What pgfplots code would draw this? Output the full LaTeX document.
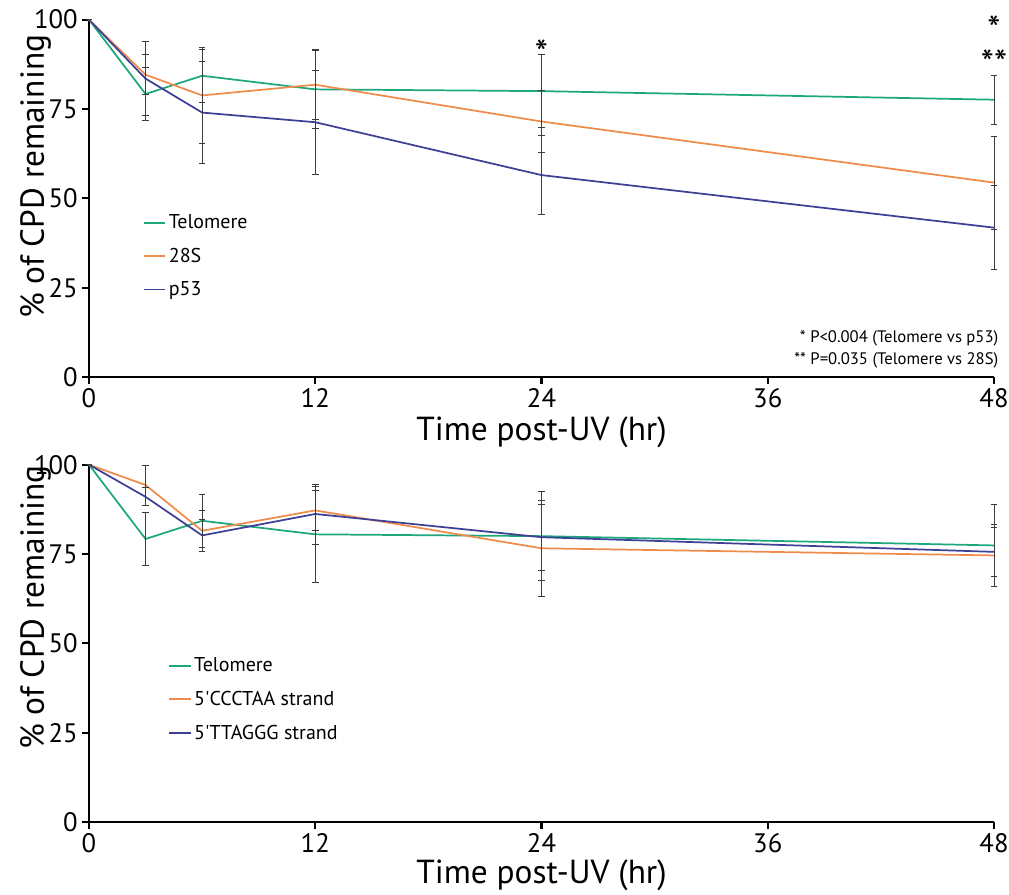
\documentclass[border=0pt]{standalone}
\usepackage{fontspec}
\setmainfont{PT Sans}
\usepackage{pgfplots}
\pgfplotsset{compat=1.18}

\definecolor{telo}{RGB}{28,168,124}
\definecolor{rib}{RGB}{240,140,75}
\definecolor{pff}{RGB}{62,64,150}
\definecolor{ebar}{RGB}{60,60,60}

\pgfplotsset{
  panel/.style={
    scale only axis, width=678.75pt, height=268pt,
    xmin=0, xmax=48, ymin=0, ymax=100,
    axis lines=left, axis line style={line width=2pt, -},
    xtick={0,12,24,36,48}, ytick={0,25,50,75,100},
    tick style={line width=1.6pt, black}, tick align=outside, major tick length=5pt,
    tick label style={font=\fontsize{20}{22}\selectfont},
    /pgf/number format/assume math mode=true,
    label style={font=\fontsize{25}{28}\selectfont},
    xlabel={Time post-UV (hr)},
    ylabel={\% of CPD remaining},
    every axis plot/.append style={line width=1.3pt, no markers},
    error bars/y dir=both, error bars/y explicit,
    error bars/error bar style={ebar, line width=0.7pt},
    error bars/error mark options={ebar, rotate=90, mark size=2.5pt, line width=0.7pt},
    legend style={draw=none, fill=none, font=\fontsize{15}{17}\selectfont, row sep=9pt},
    legend cell align=left,
    legend image code/.code={\draw[#1, line width=1.4pt] (0pt,0pt) -- (16pt,0pt);},
    clip=false,
  }
}

\begin{document}
\begin{tikzpicture}
\useasboundingbox (0,0) rectangle (756.75pt,670.5pt);

% top panel: telomere vs 28S vs p53
\begin{axis}[panel,
    at={(66.75pt,387.75pt)}, anchor=south west,
    xlabel style={at={(axis description cs:0.5,-0.155)}, anchor=center},
    ylabel style={at={(axis description cs:-0.059,0.56)}, anchor=center},
    legend style={at={(axis description cs:0.055,0.47)}, anchor=north west},
]
\addplot[telo] coordinates {
    (0,100) +- (0,0)
    (3,79.2) +- (0,7.5)
    (6,84.3) +- (0,7.5)
    (12,80.5) +- (0,11)
    (24,80) +- (0,10.3)
    (48,77.6) +- (0,6.9)
};
\addplot[rib] coordinates {
    (0,100) +- (0,0)
    (3,84.6) +- (0,5.6)
    (6,78.8) +- (0,13.5)
    (12,81.8) +- (0,9.8)
    (24,71.5) +- (0,8.6)
    (48,54.4) +- (0,13)
};
\addplot[pff] coordinates {
    (0,100) +- (0,0)
    (3,83.5) +- (0,10.3)
    (6,74) +- (0,14.2)
    (12,71.3) +- (0,14.5)
    (24,56.5) +- (0,11)
    (48,41.8) +- (0,11.8)
};
\legend{Telomere, 28S, p53}

% significance marks
\node[font=\fontsize{28}{28}\selectfont, anchor=base, inner sep=0pt] at (axis cs:24,87) {*};
\node[font=\fontsize{28}{28}\selectfont, anchor=base, inner sep=0pt] at (axis cs:48,93.5) {*};
\node[font=\fontsize{28}{28}\selectfont, anchor=base, inner sep=0pt] at (axis cs:48,84) {**};
\node[font=\fontsize{12.5}{16.5}\selectfont, align=right, anchor=south east]
    at (axis description cs:1.01,0.012) {* P<0.004 (Telomere vs p53)\\** P=0.035 (Telomere vs 28S)};
\end{axis}

% bottom panel: telomere strands
\begin{axis}[panel,
    at={(66.75pt,54pt)}, anchor=south west,
    xlabel style={at={(axis description cs:0.5,-0.148)}, anchor=center},
    ylabel style={at={(axis description cs:-0.059,0.6)}, anchor=center},
    legend style={at={(axis description cs:0.083,0.475)}, anchor=north west},
]
\addplot[telo] coordinates {
    (0,100) +- (0,0)
    (3,79.2) +- (0,7.5)
    (6,84.3) +- (0,7.5)
    (12,80.5) +- (0,13.5)
    (24,80) +- (0,12.5)
    (48,77.4) +- (0,11.5)
};
\addplot[rib] coordinates {
    (0,100) +- (0,0)
    (3,94.3) +- (0,5.6)
    (6,81.5) +- (0,5.8)
    (12,87.2) +- (0,5.6)
    (24,76.6) +- (0,13.5)
    (48,74.6) +- (0,8.6)
};
\addplot[pff] coordinates {
    (0,100) +- (0,0)
    (3,91) +- (0,2.5)
    (6,80.2) +- (0,4.6)
    (12,86.2) +- (0,8.4)
    (24,79.7) +- (0,9.2)
    (48,75.6) +- (0,6.8)
};
\legend{Telomere, 5\textquotesingle CCCTAA strand, 5\textquotesingle TTAGGG strand}
\end{axis}
\end{tikzpicture}
\end{document}
